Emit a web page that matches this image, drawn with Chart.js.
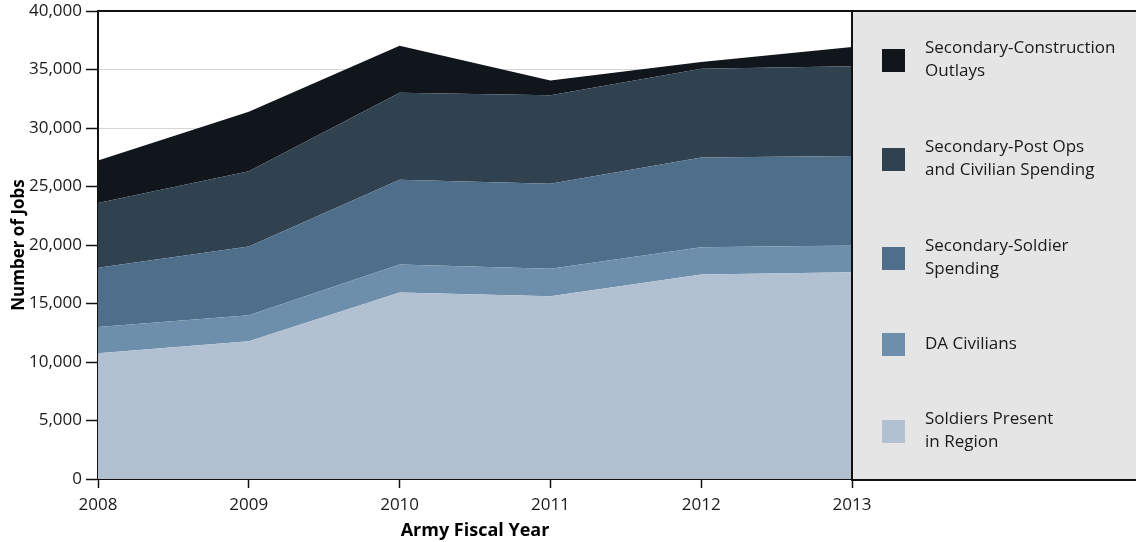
<!DOCTYPE html>
<html>
<head>
<meta charset="utf-8">
<script src="https://cdn.jsdelivr.net/npm/chart.js@4/dist/chart.umd.min.js"></script>
<style>
  html, body { margin: 0; padding: 0; background: #fff; }
  #wrap { width: 1136px; height: 542px; position: relative; }
</style>
</head>
<body>
<div id="wrap"><canvas id="chart" width="1136" height="542"></canvas></div>
<script>
// Data (jobs per layer, stacked bottom to top)
const years = ['2008', '2009', '2010', '2011', '2012', '2013'];

const soldiersPresent = [10750, 11770, 15950, 15620, 17480, 17670];
const daCivilians = [2250, 2230, 2380, 2340, 2330, 2290];
const secondarySoldier = [5050, 5870, 7250, 7270, 7670, 7640];
const secondaryPostOps = [5530, 6440, 7440, 7560, 7590, 7670];
const secondaryConstruction = [3650, 5080, 4020, 1280, 570, 1650];

const yTicks = [0, 5000, 10000, 15000, 20000, 25000, 30000, 35000, 40000];

const seriesLabels = [
    'Soldiers Present in Region',
    'DA Civilians',
    'Secondary-Soldier Spending',
    'Secondary-Post Ops and Civilian Spending',
    'Secondary-Construction Outlays'
];
// legend text broken the way the reference wraps it
const legendLines = [
    ['Soldiers Present', 'in Region'],
    ['DA Civilians'],
    ['Secondary-Soldier', 'Spending'],
    ['Secondary-Post Ops', 'and Civilian Spending'],
    ['Secondary-Construction', 'Outlays']
];
const seriesColors = ['#b2c1d2', '#6e8fab', '#4f6e89', '#304150', '#11151c'];

const FONT = '"Open Sans", "Noto Sans", sans-serif';

// gray legend panel on the right, plus the black frame lines
const legendPanel = {
    id: 'legendPanel',
    afterDraw(chart) {
        const ctx = chart.ctx;
        const area = chart.chartArea;
        const x0 = area.right;
        const x1 = chart.width;
        ctx.save();
        ctx.fillStyle = '#e5e5e5';
        ctx.fillRect(x0, area.top, x1 - x0, area.bottom - area.top + 1);

        ctx.strokeStyle = '#111';
        ctx.lineWidth = 2;
        ctx.beginPath();
        ctx.moveTo(area.left, area.top);
        ctx.lineTo(x1, area.top);
        ctx.moveTo(x0, area.top);
        ctx.lineTo(x0, area.bottom + 1);
        ctx.lineTo(x1, area.bottom + 1);
        ctx.stroke();

        // items top to bottom: construction first
        const centers = [431, 344, 258, 159, 60];
        ctx.font = '17px ' + FONT;
        ctx.textBaseline = 'middle';
        ctx.textAlign = 'left';
        for (let i = 0; i < legendLines.length; i++) {
            const cy = centers[i];
            ctx.fillStyle = seriesColors[i];
            ctx.fillRect(882, cy - 11, 23, 23);
            ctx.fillStyle = '#1a1a1a';
            const lines = legendLines[i];
            const lh = 23;
            const startY = cy - (lines.length - 1) * lh / 2;
            lines.forEach((t, j) => ctx.fillText(t, 925, startY + j * lh));
        }
        ctx.restore();
    }
};

const datasets = [soldiersPresent, daCivilians, secondarySoldier, secondaryPostOps, secondaryConstruction]
    .map((values, i) => ({
        label: seriesLabels[i],
        data: values,
        backgroundColor: seriesColors[i],
        borderColor: seriesColors[i],
        borderWidth: 0,
        pointRadius: 0,
        fill: i === 0 ? 'origin' : '-1',
        tension: 0
    }));

new Chart(document.getElementById('chart'), {
    type: 'line',
    data: { labels: years, datasets: datasets },
    options: {
        responsive: false,
        animation: false,
        layout: { padding: { top: 11, right: 284, left: 0, bottom: 0 } },
        plugins: {
            legend: { display: false },
            tooltip: { enabled: false }
        },
        scales: {
            x: {
                offset: false,
                grid: { drawOnChartArea: false, tickLength: 9, tickColor: '#111', tickWidth: 1.5 },
                border: { display: true, color: '#111', width: 2 },
                ticks: { color: '#1a1a1a', font: { family: FONT, size: 17 }, padding: 7, maxRotation: 0 },
                title: {
                    display: true,
                    text: 'Army Fiscal Year',
                    color: '#000',
                    font: { family: FONT, size: 18, weight: 'bold' },
                    padding: { top: 0, bottom: 0 }
                },
                afterFit(s) {
                    s.height = 63;
                    s.paddingLeft = 0;
                    s.paddingRight = 0;
                }
            },
            y: {
                stacked: true,
                min: 0,
                max: 40000,
                afterBuildTicks(s) { s.ticks = yTicks.map(v => ({ value: v })); },
                grid: { color: '#d6d6d6', lineWidth: 1, tickLength: 12, tickColor: '#111', tickWidth: 1.5 },
                border: { display: true, color: '#111', width: 2 },
                ticks: {
                    color: '#1a1a1a',
                    font: { family: FONT, size: 17 },
                    padding: 4,
                    callback: v => v.toLocaleString('en-US')
                },
                title: {
                    display: true,
                    text: 'Number of Jobs',
                    color: '#000',
                    font: { family: FONT, size: 17, weight: 'bold' },
                    padding: { top: 9, bottom: 0 }
                },
                afterFit(s) {
                    s.width = 98;
                    s.paddingTop = 0;
                    s.paddingBottom = 0;
                }
            }
        }
    },
    plugins: [legendPanel]
});
</script>
</body>
</html>
